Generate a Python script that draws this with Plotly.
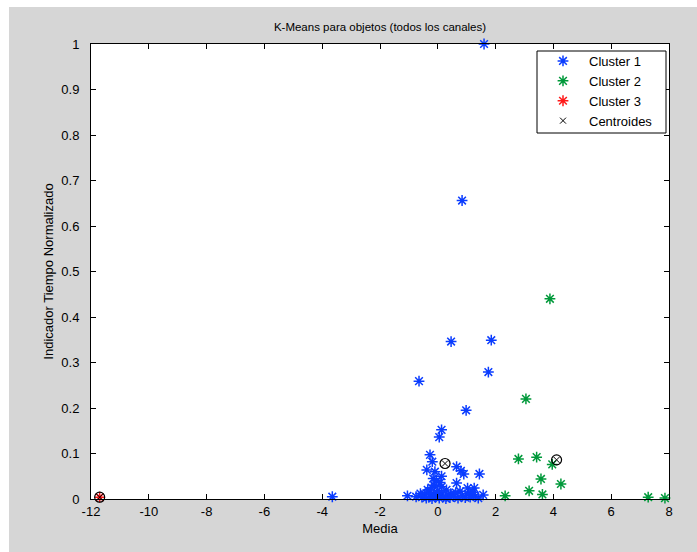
import plotly.graph_objects as go

# ---- data ----
c1_x = [1.60, 0.84, 1.85, 0.46, 1.75, -0.65, 0.98, -3.65, 0.13, 0.05,
        -0.27, -0.19, -0.38, 0.65, 0.80, 0.90, 1.44, -0.10, -0.16, 0.13,
        0.65, 0.13, -0.12, 1.03, 1.26, 0.77, -1.05, -0.75, 1.57, 0.08,
        -0.05, 1.17, 0.45,
        -0.55, -0.45, -0.40, -0.32, -0.28, -0.20, -0.15, -0.08, 0.00, 0.05,
        0.12, 0.20, 0.28, 0.35, 0.42, 0.55, 0.62, 0.70, 0.85, 0.95,
        1.05, 1.12, 1.30, 1.40, -0.35, -0.22, 0.30, -0.60, 0.00, 1.22]
c1_y = [1.000, 0.656, 0.349, 0.346, 0.279, 0.259, 0.195, 0.005, 0.152, 0.136,
        0.097, 0.082, 0.064, 0.071, 0.062, 0.055, 0.055, 0.060, 0.045, 0.050,
        0.035, 0.027, 0.030, 0.024, 0.024, 0.017, 0.007, 0.005, 0.009, 0.036,
        0.040, 0.010, 0.012,
        0.004, 0.010, 0.002, 0.015, 0.006, 0.001, 0.011, 0.004, 0.008, 0.002,
        0.013, 0.005, 0.001, 0.009, 0.003, 0.006, 0.014, 0.002, 0.007, 0.003,
        0.012, 0.004, 0.006, 0.002, 0.020, 0.025, 0.020, 0.012, 0.018, 0.015]

c2_x = [3.88, 3.05, 2.79, 3.42, 3.96, 3.57, 4.26, 3.16, 3.62, 2.33, 7.28, 7.86]
c2_y = [0.440, 0.220, 0.088, 0.092, 0.076, 0.044, 0.033, 0.018, 0.010, 0.007, 0.004, 0.002]

c3_x = [-11.7]
c3_y = [0.004]

cent_x = [0.25, 4.11, -11.7]
cent_y = [0.078, 0.086, 0.004]

x_ticks = [-12, -10, -8, -6, -4, -2, 0, 2, 4, 6, 8]
y_ticks = [0, 0.1, 0.2, 0.3, 0.4, 0.5, 0.6, 0.7, 0.8, 0.9, 1]
y_tick_text = ["0", "0.1", "0.2", "0.3", "0.4", "0.5", "0.6", "0.7", "0.8", "0.9", "1"]

FONT = "Liberation Sans Narrow, Liberation Sans, Arial, sans-serif"
BLUE = "#0a3cff"
GREEN = "#00993a"
RED = "#ff1a1a"

# plot area in pixels (for converting legend box position)
PL, PR, PT, PB = 91, 669, 44, 499
PW, PH = PR - PL, PB - PT


def px_x(p):
    return (p - PL) / PW


def px_y(p):
    return (PB - p) / PH


fig = go.Figure()


def star(x, y, color, name):
    return go.Scatter(
        x=x, y=y, mode="markers", name=name, cliponaxis=False,
        marker=dict(symbol="asterisk-open", size=9, color=color,
                    line=dict(color=color, width=1.5)))


fig.add_trace(star(c1_x, c1_y, BLUE, "Cluster 1"))
fig.add_trace(star(c2_x, c2_y, GREEN, "Cluster 2"))
fig.add_trace(star(c3_x, c3_y, RED, "Cluster 3"))
fig.add_trace(go.Scatter(
    x=cent_x, y=cent_y, mode="markers", name="Centroides", cliponaxis=False,
    marker=dict(symbol="x-thin-open", size=6, color="black",
                line=dict(color="black", width=1))))
fig.add_trace(go.Scatter(
    x=cent_x, y=cent_y, mode="markers", showlegend=False, cliponaxis=False,
    marker=dict(symbol="circle-open", size=10, color="black",
                line=dict(color="black", width=1.2))))

axis_common = dict(
    showline=True, linecolor="black", linewidth=1, mirror="ticks",
    ticks="inside", ticklen=5, tickcolor="black", tickwidth=1,
    showgrid=False, zeroline=False,
    tickfont=dict(family=FONT, size=13, color="black"),
)

fig.update_xaxes(range=[-12, 8], tickvals=x_ticks, ticktext=[str(v) for v in x_ticks],
                 title=dict(text="Media", font=dict(family=FONT, size=13, color="black"),
                            standoff=6),
                 **axis_common)
fig.update_yaxes(range=[0, 1], tickvals=y_ticks, ticktext=y_tick_text,
                 ticklabelstandoff=8,
                 title=dict(text="Indicador Tiempo Normalizado",
                            font=dict(family=FONT, size=13, color="black"),
                            standoff=4),
                 **axis_common)

fig.update_layout(
    width=697, height=552,
    margin=dict(l=PL, r=697 - PR, t=PT, b=552 - PB),
    paper_bgcolor="#d6d6d6",
    plot_bgcolor="white",
    title=dict(text="K-Means para objetos (todos los canales)",
               font=dict(family=FONT, size=11.5, color="black"),
               x=0.5, xref="paper", xanchor="center",
               y=1 - 27 / 552, yref="container", yanchor="middle"),
    legend=dict(x=px_x(537), y=px_y(46), xanchor="left", yanchor="top",
                bgcolor="rgba(0,0,0,0)", borderwidth=0,
                font=dict(family=FONT, size=13, color="black"),
                itemwidth=42, tracegroupgap=0),
    showlegend=True,
    shapes=[
        dict(type="rect", xref="paper", yref="paper", x0=-0.2, x1=px_x(9),
             y0=-0.2, y1=1.2, fillcolor="white", line=dict(width=0), layer="below"),
        dict(type="rect", xref="paper", yref="paper", x0=-0.2, x1=1.2,
             y0=px_y(7), y1=1.2, fillcolor="white", line=dict(width=0), layer="below"),
        dict(type="rect", xref="paper", yref="paper",
             x0=px_x(537), x1=px_x(666), y0=px_y(133), y1=px_y(51),
             fillcolor="white", line=dict(color="black", width=1), layer="above"),
    ],
)

fig.write_html("out.html")
